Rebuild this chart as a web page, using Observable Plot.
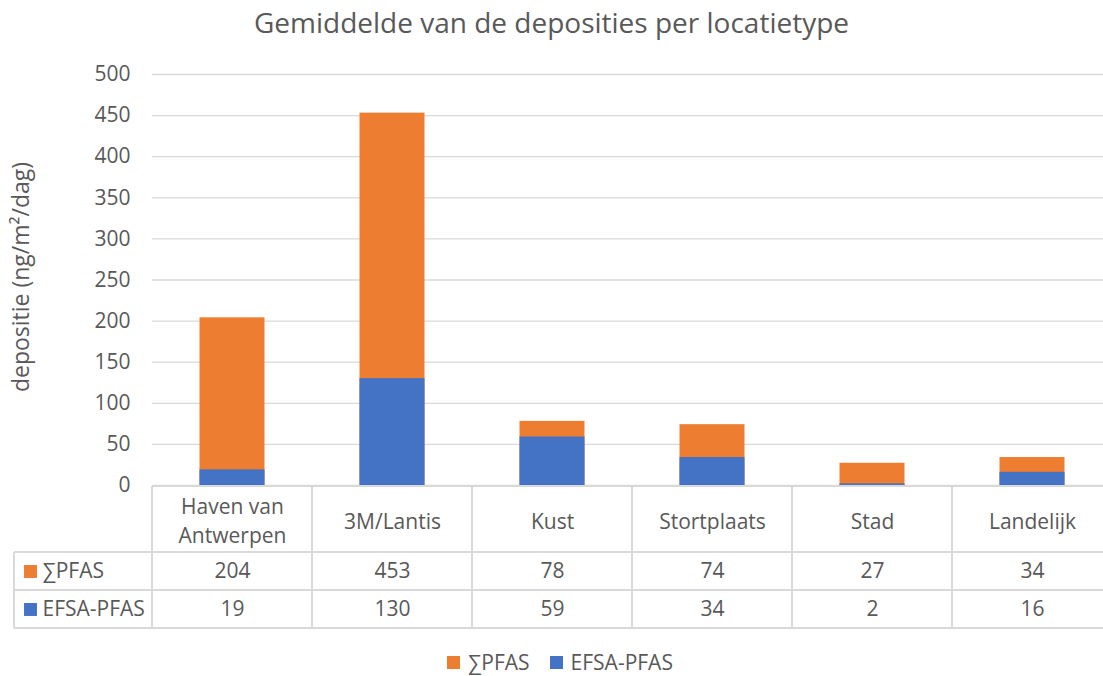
<!DOCTYPE html>
<html><head><meta charset="utf-8">
<script src="https://cdn.jsdelivr.net/npm/d3@7"></script>
<script src="https://cdn.jsdelivr.net/npm/@observablehq/plot@0.6"></script>
<style>
body{margin:0;background:#fff;font-family:"Open Sans",sans-serif;color:#595959;width:1103px;height:676px;overflow:hidden}
#title{height:48px;line-height:44px;text-align:center;font-size:28px;}
#legend{height:28px;display:flex;justify-content:center;align-items:center;font-size:21px;padding-left:17px;}
#legend .item{display:flex;align-items:center;margin:0 10px;}
#legend .sw{width:13px;height:13px;margin-right:8px;}
</style></head><body>
<div id="title">Gemiddelde van de deposities per locatietype</div>
<div id="chart"></div>
<div id="legend"></div>
<script>
const categories = ["Haven van Antwerpen","3M/Lantis","Kust","Stortplaats","Stad","Landelijk"];
const headerLabels = ["Haven van\nAntwerpen","3M/Lantis","Kust","Stortplaats","Stad","Landelijk"];
const seriesNames = ["∑PFAS","EFSA-PFAS"];
const sumPFAS = [204,453,78,74,27,34];
const efsaPFAS = [19,130,59,34,2,16];
const yTicks = [0,50,100,150,200,250,300,350,400,450,500];
const colors = ["#ED7D31","#4472C4"];
const yLabel = "depositie (ng/m²/dag)";

const W = 1103, H = 600, mLeft = 152, step = 160, mTop = 26, yBottom = 437;
const rows = categories.map((c,i)=>({cat:c, header:headerLabels[i], sum:sumPFAS[i], efsa:efsaPFAS[i]}));
const txt = "#595959";
const fs = 21;
const plot = Plot.plot({
  width: W, height: H, marginLeft: mLeft, marginRight: 0, marginTop: mTop, marginBottom: H - yBottom,
  style: {fontFamily: '"Open Sans", sans-serif', fontSize: "21px", color: txt, background: "white", overflow: "visible"},
  x: {type: "band", domain: categories, range: [mLeft, mLeft + step*categories.length], padding: 0, axis: null},
  y: {domain: [0,500], ticks: yTicks, tickSize: 0, tickPadding: 22, label: null, tickFormat: d => String(d)},
  marks: [
    Plot.ruleY(yTicks, {stroke: "#d9d9d9", strokeWidth: 1.3}),
    Plot.barY(rows, {x: "cat", y: "sum", fill: colors[0], insetLeft: 47.5, insetRight: 47.5}),
    Plot.barY(rows, {x: "cat", y: "efsa", fill: colors[1], insetLeft: 47.5, insetRight: 47.5}),
    Plot.text(rows, {x: "cat", text: "header", frameAnchor: "bottom", lineAnchor: "middle", dy: 34, lineHeight: 1.38, fontSize: fs, fill: txt}),
    Plot.text(rows, {x: "cat", text: d => String(d.sum), frameAnchor: "bottom", lineAnchor: "middle", dy: 86, fontSize: fs, fill: txt}),
    Plot.text(rows, {x: "cat", text: d => String(d.efsa), frameAnchor: "bottom", lineAnchor: "middle", dy: 124, fontSize: fs, fill: txt}),
    Plot.text([seriesNames[0]], {text: d => d, frameAnchor: "bottom-left", lineAnchor: "middle", textAnchor: "start", dx: -110, dy: 86, fontSize: fs, fill: txt}),
    Plot.text([seriesNames[1]], {text: d => d, frameAnchor: "bottom-left", lineAnchor: "middle", textAnchor: "start", dx: -110, dy: 124, fontSize: fs, fill: txt}),
    Plot.dot([seriesNames[0]], {frameAnchor: "bottom-left", symbol: "square", r: 7.3, fill: colors[0], stroke: null, dx: -122, dy: 86}),
    Plot.dot([seriesNames[1]], {frameAnchor: "bottom-left", symbol: "square", r: 7.3, fill: colors[1], stroke: null, dx: -122, dy: 124}),
    Plot.text([yLabel], {text: d => d, frameAnchor: "left", textAnchor: "middle", lineAnchor: "middle", rotate: -90, dx: -131, dy: -3, fontSize: 23, fill: txt})
  ]
});
document.getElementById("chart").appendChild(plot);

// data-table grid
const svg = d3.select(plot);
const g = svg.append("g").attr("stroke", "#d9d9d9").attr("stroke-width", 2).attr("fill", "none");
const rightEdge = W;
const rowY = [yBottom + 1, yBottom + 67, yBottom + 105, yBottom + 143];
g.append("line").attr("x1", mLeft).attr("x2", rightEdge).attr("y1", rowY[0]).attr("y2", rowY[0]);
for (let k = 1; k < rowY.length; k++) g.append("line").attr("x1", 14).attr("x2", rightEdge).attr("y1", rowY[k]).attr("y2", rowY[k]);
g.append("line").attr("x1", 14).attr("x2", 14).attr("y1", rowY[1]).attr("y2", rowY[3]);
for (let k = 0; k <= categories.length; k++) {
  const x = mLeft + step * k;
  g.append("line").attr("x1", x).attr("x2", x).attr("y1", rowY[0]).attr("y2", rowY[3]);
}

// legend
const leg = d3.select("#legend");
seriesNames.forEach((s, i) => {
  const it = leg.append("div").attr("class", "item");
  it.append("div").attr("class", "sw").style("background", colors[i]);
  it.append("span").text(s);
});
</script>
</body></html>
